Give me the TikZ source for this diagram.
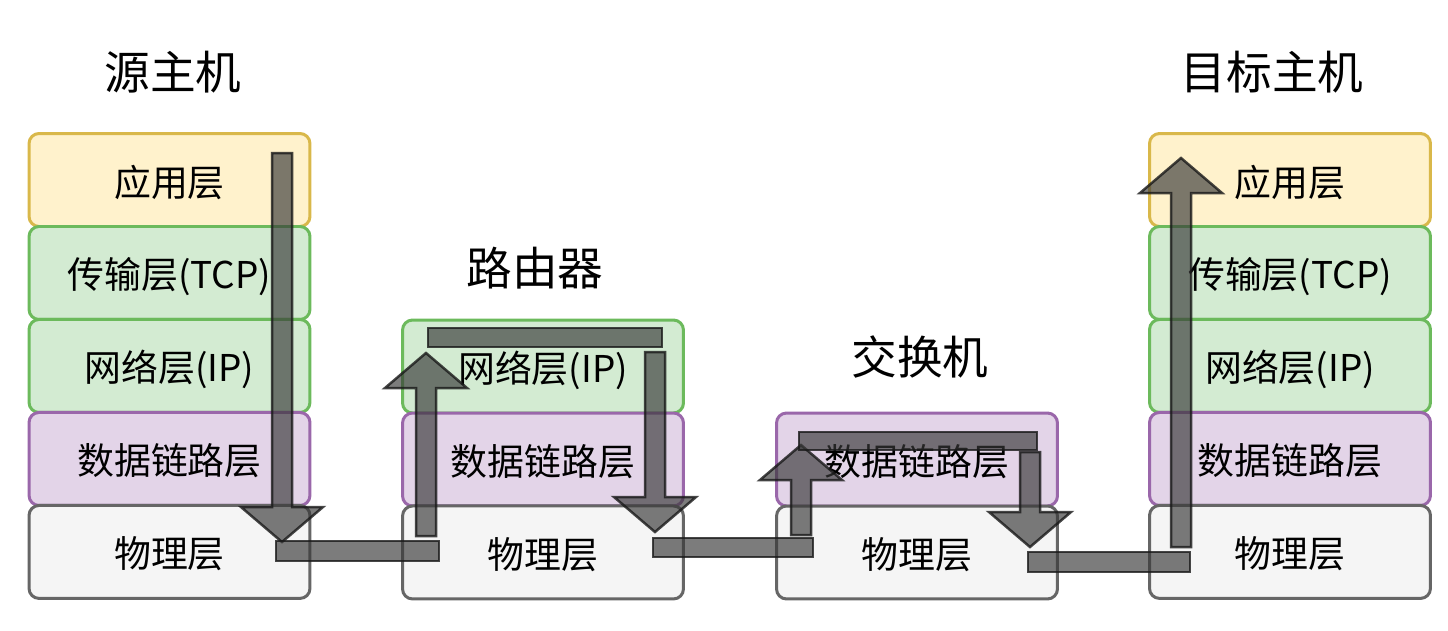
\documentclass[tikz,border=0pt]{standalone}
\usepackage{fontspec}
\usepackage{tikz}
\usetikzlibrary{positioning,calc}
\setmainfont{Noto Sans CJK SC}
\definecolor{appFill}{HTML}{FFF2CC}
\definecolor{appLine}{HTML}{D9B84A}
\definecolor{netFill}{HTML}{D3EBD2}
\definecolor{netLine}{HTML}{6CBA5C}
\definecolor{linkFill}{HTML}{E3D4E8}
\definecolor{linkLine}{HTML}{9A67AA}
\definecolor{phyFill}{HTML}{F5F5F5}
\definecolor{phyLine}{HTML}{666666}
% block arrow: tail, tip, direction (-1 down, 1 up)
\newcommand{\flexarrow}[3]{%
  \filldraw[flex] ($(#1)+(-10,0)$) -- ($(#2)+(-10,#3*35)$) -- ($(#2)+(-41,#3*35)$)
    -- (#2) -- ($(#2)+(41,#3*35)$) -- ($(#2)+(10,#3*35)$) -- ($(#1)+(10,0)$) -- cycle;}
\begin{document}
\begin{tikzpicture}[x=0.02cm,y=-0.02cm,
    node distance=0pt,
    layer/.style={rounded corners=0.2cm, line width=0.06cm, outer sep=0pt, inner sep=0pt,
      minimum width=5.62cm, minimum height=1.86cm, text height=0.7cm, text depth=0.06cm,
      font=\fontsize{21}{25}\selectfont},
    app/.style={layer, draw=appLine, fill=appFill},
    net/.style={layer, draw=netLine, fill=netFill},
    link/.style={layer, draw=linkLine, fill=linkFill},
    phy/.style={layer, draw=phyLine, fill=phyFill},
    title/.style={font=\fontsize{26}{30}\selectfont},
    flex/.style={fill=black!78, draw=black!90, fill opacity=0.66, draw opacity=0.8, line width=0.05cm}]
  \useasboundingbox (0,0) rectangle (1448,630);
  % source host
  \node[title] (src-title) at (173,72) {源主机};
  \node[app] (src-app) at (169.5,180) {应用层};
  \node[net, below=of src-app] (src-tcp) {传输层(TCP)};
  \node[net, below=of src-tcp] (src-ip) {网络层(IP)};
  \node[link, below=of src-ip] (src-link) {数据链路层};
  \node[phy, below=of src-link] (src-phy) {物理层};
  % router
  \node[title] (rt-title) at (535,268) {路由器};
  \node[net] (rt-ip) at (543,366.5) {网络层(IP)};
  \node[link, below=of rt-ip] (rt-link) {数据链路层};
  \node[phy, below=of rt-link] (rt-phy) {物理层};
  % switch
  \node[title] (sw-title) at (920,357) {交换机};
  \node[link] (sw-link) at (917,459.5) {数据链路层};
  \node[phy, below=of sw-link] (sw-phy) {物理层};
  % destination host
  \node[title] (dst-title) at (1272,72) {目标主机};
  \node[app] (dst-app) at (1290,180) {应用层};
  \node[net, below=of dst-app] (dst-tcp) {传输层(TCP)};
  \node[net, below=of dst-tcp] (dst-ip) {网络层(IP)};
  \node[link, below=of dst-ip] (dst-link) {数据链路层};
  \node[phy, below=of dst-link] (dst-phy) {物理层};
  % data path
  \coordinate (src-in) at (282,153);
  \coordinate (src-out) at (282,542);
  \coordinate (rt-in) at (426,536);
  \coordinate (rt-up) at (426,353);
  \coordinate (rt-down) at (655,352);
  \coordinate (rt-out) at (655,532);
  \coordinate (sw-in) at (801,535);
  \coordinate (sw-up) at (801,445);
  \coordinate (sw-down) at (1030,452);
  \coordinate (sw-out) at (1030,547);
  \coordinate (dst-in) at (1181,547);
  \coordinate (dst-out) at (1181,158);
  \flexarrow{src-in}{src-out}{-1}
  \draw[flex] (276,541) rectangle (439,561);
  \flexarrow{rt-in}{rt-up}{1}
  \draw[flex] (428,328) rectangle (662,347);
  \flexarrow{rt-down}{rt-out}{-1}
  \draw[flex] (653,538) rectangle (813,557);
  \flexarrow{sw-in}{sw-up}{1}
  \draw[flex] (799,432) rectangle (1037,450);
  \flexarrow{sw-down}{sw-out}{-1}
  \draw[flex] (1028,552) rectangle (1190,572);
  \flexarrow{dst-in}{dst-out}{1}
\end{tikzpicture}
\end{document}
